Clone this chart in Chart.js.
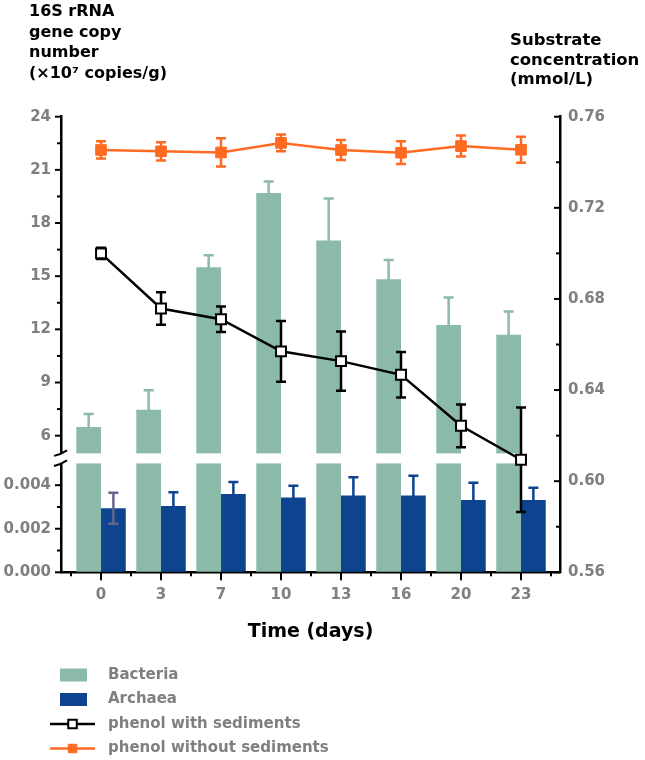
<!DOCTYPE html>
<html>
<head>
<meta charset="utf-8">
<script src="https://cdn.jsdelivr.net/npm/chart.js@4.4.0/dist/chart.umd.min.js"></script>
<style>
  html, body { margin: 0; padding: 0; background: #fff; }
  canvas { display: block; }
</style>
</head>
<body>
<canvas id="chart" width="645" height="760"></canvas>
<script>
// values
const TIME_LABELS = ['0', '3', '7', '10', '13', '16', '20', '23'];
const BACTERIA = [6.49, 7.46, 15.5, 19.69, 17.01, 14.83, 12.25, 11.7];
const BACTERIA_ERR = [0.73, 1.1, 0.68, 0.65, 2.38, 1.09, 1.55, 1.3];
const ARCHAEA = [0.00294, 0.00304, 0.00359, 0.00344, 0.00353, 0.00353, 0.00332, 0.00332];
const ARCHAEA_ERR = [0.00071, 0.00064, 0.00056, 0.00053, 0.00083, 0.0009, 0.00079, 0.00056];
const WITH_SED = [0.700, 0.6758, 0.6711, 0.6570, 0.6527, 0.6467, 0.6243, 0.6094];
const WITH_SED_ERR = [0.0025, 0.0071, 0.0056, 0.0133, 0.013, 0.010, 0.0094, 0.0229];
const WITHOUT_SED = [0.7454, 0.7448, 0.7443, 0.7485, 0.7454, 0.7442, 0.7471, 0.7455];
const WITHOUT_SED_ERR = [0.0038, 0.004, 0.0062, 0.0037, 0.0044, 0.005, 0.0046, 0.0057];

const LEFT_TICKS = [0, 0.002, 0.004, 6, 9, 12, 15, 18, 21, 24];
const LEFT_MINOR = [0.001, 0.003, 7.5, 10.5, 13.5, 16.5, 19.5, 22.5];
const RIGHT_TICKS = [0.56, 0.60, 0.64, 0.68, 0.72, 0.76];
const RIGHT_MINOR = [0.58, 0.62, 0.66, 0.70, 0.74];

// where the left axis is cut
const BREAK = { lowMax: 0.005, upMin: 5, lowFrac: 0.239, upFrac: 0.261 };

const GREEN = '#8bbba8';
const BLUE = '#0e438f';
const ORANGE = '#ff6a22';
const GREY = '#7f7f7f';
const FONT = "'DejaVu Sans', sans-serif";

Chart.defaults.font.family = FONT;
Chart.defaults.font.weight = 'bold';
Chart.defaults.color = GREY;

// linear scale with a gap between the archaea range and the bacteria range
class BrokenScale extends Chart.LinearScale {
    static id = 'broken';
    static defaults = Chart.LinearScale.defaults;

    getPixelForValue(value) {
        const b = BREAK;
        let f;
        if (value <= b.lowMax) {
            f = value / b.lowMax * b.lowFrac;
        } else if (value >= b.upMin) {
            f = b.upFrac + (value - b.upMin) / (this.max - b.upMin) * (1 - b.upFrac);
        } else {
            f = b.lowFrac + (value - b.lowMax) / (b.upMin - b.lowMax) * (b.upFrac - b.lowFrac);
        }
        return this.bottom - f * (this.bottom - this.top);
    }

    getValueForPixel(pixel) {
        const b = BREAK;
        const f = (this.bottom - pixel) / (this.bottom - this.top);
        if (f <= b.lowFrac) return f / b.lowFrac * b.lowMax;
        if (f >= b.upFrac) return b.upMin + (f - b.upFrac) / (1 - b.upFrac) * (this.max - b.upMin);
        return b.lowMax + (f - b.lowFrac) / (b.upFrac - b.lowFrac) * (b.upMin - b.lowMax);
    }
}
Chart.register(BrokenScale);

const points = arr => arr.map((v, i) => ({ x: i, y: v }));

function drawErrors(chart, meta) {
    const ds = chart.data.datasets[meta.index];
    if (!ds.errors) return;
    const scale = meta.vScale;
    const ctx = chart.ctx;
    ctx.save();
    ctx.lineWidth = 2.5;
    meta.data.forEach((el, i) => {
        const v = ds.data[i].y;
        const e = ds.errors[i];
        const top = scale.getPixelForValue(v + e);
        const bot = scale.getPixelForValue(v - e);
        ctx.strokeStyle = Array.isArray(ds.errorColor) ? ds.errorColor[i] : ds.errorColor;
        ctx.beginPath();
        ctx.moveTo(el.x, top); ctx.lineTo(el.x, bot);
        ctx.moveTo(el.x - 5, top); ctx.lineTo(el.x + 5, top);
        ctx.moveTo(el.x - 5, bot); ctx.lineTo(el.x + 5, bot);
        ctx.stroke();
    });
    ctx.restore();
}

const errorBars = {
    id: 'errorBars',
    beforeDatasetDraw(chart, args) {
        if (args.meta.type === 'line') drawErrors(chart, args.meta);
    },
    afterDatasetDraw(chart, args) {
        const meta = args.meta;
        if (meta.type !== 'bar') return;
        drawErrors(chart, meta);
        if (!chart.data.datasets[meta.index].cutAtBreak) return;
        // white band where the axis is broken
        const y0 = meta.vScale.getPixelForValue(BREAK.upMin);
        const y1 = meta.vScale.getPixelForValue(BREAK.lowMax);
        chart.ctx.save();
        chart.ctx.fillStyle = '#fff';
        meta.data.forEach(el => {
            chart.ctx.fillRect(el.x - el.width / 2 - 1, y0, el.width + 2, y1 - y0);
        });
        chart.ctx.restore();
    }
};

const axisDecor = {
    id: 'axisDecor',
    afterDraw(chart) {
        const { ctx, scales: { x, y, y2 } } = chart;
        ctx.save();
        ctx.strokeStyle = '#000';
        ctx.lineWidth = 2;
        const line = (x0, y0, x1, y1) => {
            ctx.beginPath(); ctx.moveTo(x0, y0); ctx.lineTo(x1, y1); ctx.stroke();
        };
        LEFT_TICKS.forEach(v => { const p = y.getPixelForValue(v); line(y.right - 6, p, y.right, p); });
        LEFT_MINOR.forEach(v => { const p = y.getPixelForValue(v); line(y.right - 4, p, y.right, p); });
        RIGHT_TICKS.forEach(v => { const p = y2.getPixelForValue(v); line(y2.left - 6, p, y2.left, p); });
        RIGHT_MINOR.forEach(v => { const p = y2.getPixelForValue(v); line(y2.left - 4, p, y2.left, p); });
        TIME_LABELS.forEach((_, i) => {
            const p = x.getPixelForValue(i);
            line(p, x.top, p, x.top + 8);
            const m = x.getPixelForValue(i - 0.5);
            line(m, x.top, m, x.top + 4);
        });
        const last = x.getPixelForValue(TIME_LABELS.length - 0.5);
        line(last, x.top, last, x.top + 4);

        // break in the left axis
        const g0 = y.getPixelForValue(BREAK.upMin);
        const g1 = y.getPixelForValue(BREAK.lowMax);
        ctx.fillStyle = '#fff';
        ctx.fillRect(y.right - 3, g0, 6, g1 - g0);
        ctx.lineWidth = 2;
        [g0, g1].forEach(g => {
            ctx.beginPath();
            ctx.moveTo(y.right - 7, g + 2.5);
            ctx.quadraticCurveTo(y.right, g + 1, y.right + 6, g - 3);
            ctx.stroke();
        });

        // axis titles above the plot
        ctx.fillStyle = '#000';
        ctx.textAlign = 'left';
        ctx.textBaseline = 'alphabetic';
        ctx.font = 'bold 16px ' + FONT;
        ['16S rRNA', 'gene copy', 'number', '(\u00d710\u2077 copies/g)']
            .forEach((t, i) => ctx.fillText(t, 29, 16 + i * 20.7));
        ctx.font = 'bold 16.5px ' + FONT;
        ['Substrate', 'concentration', '(mmol/L)']
            .forEach((t, i) => ctx.fillText(t, 510, 45 + i * 19.5));

        // legend, one item per row
        ctx.font = 'bold 15px ' + FONT;
        ctx.textBaseline = 'middle';
        chart.data.datasets.forEach((ds, i) => {
            const cy = 675 + i * 24.5;
            if (ds.type === 'bar') {
                ctx.fillStyle = ds.backgroundColor;
                ctx.fillRect(60, cy - 6.5, 27, 13);
            } else {
                ctx.strokeStyle = ds.borderColor;
                ctx.lineWidth = 2.5;
                line(50, cy, 95, cy);
                ctx.fillStyle = ds.pointBackgroundColor;
                ctx.strokeStyle = ds.pointBorderColor;
                ctx.lineWidth = ds.pointBorderWidth;
                Chart.helpers.drawPoint(ctx, {
                    pointStyle: ds.pointStyle, radius: 6, borderWidth: ds.pointBorderWidth
                }, 72.5, cy);
            }
            ctx.fillStyle = GREY;
            ctx.fillText(ds.label, 108, cy);
        });
        ctx.restore();
    }
};

new Chart(document.getElementById('chart'), {
    data: {
        datasets: [
            {
                type: 'bar',
                label: 'Bacteria',
                data: points(BACTERIA),
                errors: BACTERIA_ERR,
                errorColor: GREEN,
                cutAtBreak: true,
                backgroundColor: GREEN,
                yAxisID: 'y',
                categoryPercentage: 0.825,
                barPercentage: 1,
                order: 3
            },
            {
                type: 'bar',
                label: 'Archaea',
                data: points(ARCHAEA),
                errors: ARCHAEA_ERR,
                errorColor: ['#64668f', BLUE, BLUE, BLUE, BLUE, BLUE, BLUE, BLUE],
                backgroundColor: BLUE,
                yAxisID: 'y',
                categoryPercentage: 0.825,
                barPercentage: 1,
                order: 3
            },
            {
                type: 'line',
                label: 'phenol with sediments',
                data: points(WITH_SED),
                errors: WITH_SED_ERR,
                errorColor: '#000',
                borderColor: '#000',
                borderWidth: 2.5,
                pointStyle: 'rect',
                pointRadius: 7,
                pointBackgroundColor: '#fff',
                pointBorderColor: '#000',
                pointBorderWidth: 2,
                yAxisID: 'y2',
                order: 1
            },
            {
                type: 'line',
                label: 'phenol without sediments',
                data: points(WITHOUT_SED),
                errors: WITHOUT_SED_ERR,
                errorColor: ORANGE,
                borderColor: ORANGE,
                borderWidth: 2.5,
                pointStyle: 'rect',
                pointRadius: 7.5,
                pointBackgroundColor: ORANGE,
                pointBorderColor: ORANGE,
                pointBorderWidth: 1,
                yAxisID: 'y2',
                order: 1
            }
        ]
    },
    options: {
        responsive: false,
        animation: false,
        layout: { padding: { top: 116.7, bottom: 115, left: 0, right: 0 } },
        plugins: { legend: { display: false }, tooltip: { enabled: false } },
        scales: {
            x: {
                type: 'linear',
                offset: false,
                min: -0.667,
                max: 7.65,
                afterBuildTicks: s => { s.ticks = TIME_LABELS.map((_, i) => ({ value: i })); },
                afterFit: s => { s.height = 72.7; },
                grid: { drawOnChartArea: false, drawTicks: false },
                border: { color: '#000', width: 2.5 },
                ticks: {
                    autoSkip: false,
                    padding: 14,
                    font: { size: 15, weight: 'bold' },
                    callback: v => TIME_LABELS[v]
                },
                title: {
                    display: true,
                    text: 'Time (days)',
                    color: '#000',
                    font: { size: 19, weight: 'bold' },
                    padding: { top: 0, bottom: 2 }
                }
            },
            y: {
                type: 'broken',
                position: 'left',
                min: 0,
                max: 24,
                afterBuildTicks: s => { s.ticks = LEFT_TICKS.map(v => ({ value: v })); },
                afterFit: s => { s.width = 61; },
                grid: { drawOnChartArea: false, drawTicks: false },
                border: { color: '#000', width: 2.5 },
                ticks: {
                    autoSkip: false,
                    padding: 10,
                    font: { size: 15, weight: 'bold' },
                    callback: v => (v < 1 ? v.toFixed(3) : String(v))
                }
            },
            y2: {
                type: 'linear',
                position: 'right',
                min: 0.56,
                max: 0.76,
                afterBuildTicks: s => { s.ticks = RIGHT_TICKS.map(v => ({ value: v })); },
                afterFit: s => { s.width = 85; },
                grid: { drawOnChartArea: false, drawTicks: false },
                border: { color: '#000', width: 2.5 },
                ticks: {
                    autoSkip: false,
                    padding: 8,
                    font: { size: 15, weight: 'bold' },
                    callback: v => v.toFixed(2)
                }
            }
        }
    },
    plugins: [errorBars, axisDecor]
});
</script>
</body>
</html>
